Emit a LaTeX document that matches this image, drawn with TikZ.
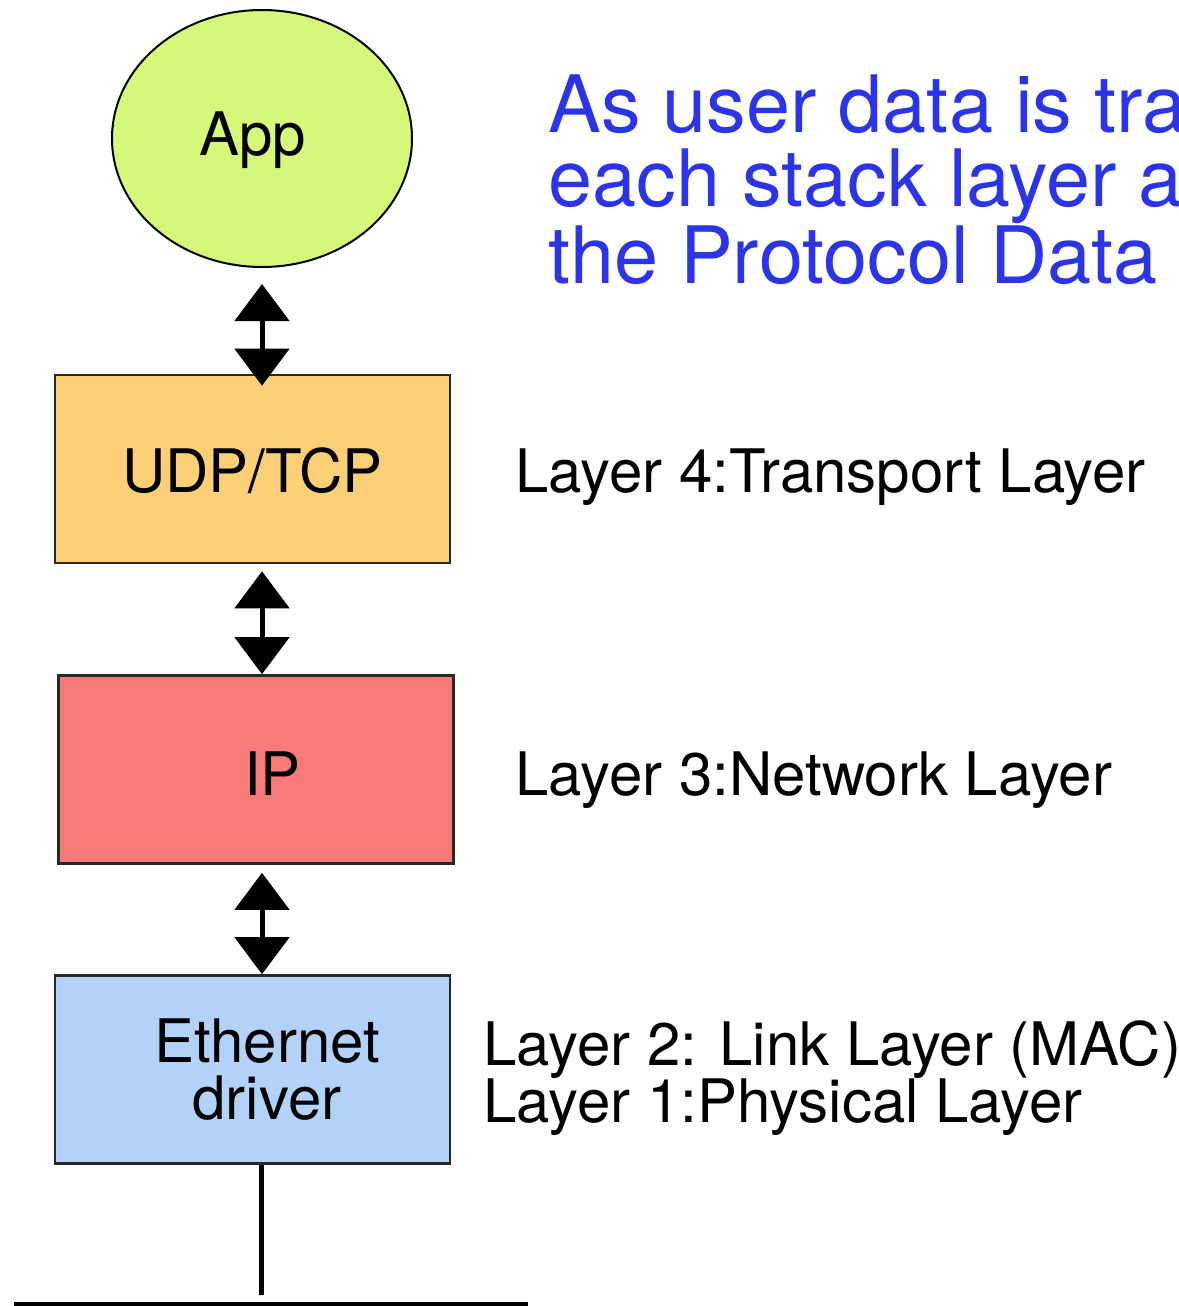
\documentclass[tikz,border=0pt]{standalone}
\usepackage{fontspec}
\setmainfont{TeX Gyre Heros}
\usepackage{tikz}
\usetikzlibrary{arrows.meta}
\usetikzlibrary{shapes.geometric}

\definecolor{appgreen}{RGB}{213,248,122}
\definecolor{udporange}{RGB}{250,207,118}
\definecolor{ipred}{RGB}{248,122,120}
\definecolor{ethblue}{RGB}{178,210,250}
\definecolor{noteblue}{RGB}{43,52,230}
\definecolor{boxgray}{RGB}{40,40,40}

\begin{document}
\begin{tikzpicture}[x=0.5pt, y=-0.5pt]
	\useasboundingbox (0,0) rectangle (1178,1306);
	\clip (0,0) rectangle (1178,1306);

	\begin{scope}[every node/.style={draw=boxgray, line width=1.3pt, inner sep=0pt,
	              minimum width=197.5pt, minimum height=94pt}]
		\node[ellipse, draw=black, line width=1pt, fill=appgreen,
		      minimum width=150pt, minimum height=128.5pt] (app) at (262,138.5) {};
		\node[fill=udporange] (udp) at (252.5,469) {};
		\node[fill=ipred] (ip) at (256,769.5) {};
		\node[fill=ethblue] (eth) at (252.5,1069.5) {};
	\end{scope}

	\begin{scope}[every node/.style={font=\fontsize{30}{28.5}\selectfont, inner sep=0pt}]
		\node[anchor=base] (apptext) at (252.5,155) {App};
		\node[anchor=base] (udptext) at (252.5,492) {UDP/TCP};
		\node[anchor=base] (iptext) at (272.5,795) {IP};
		\node[align=center] (ethtext) at (267,1069.5) {Ethernet\\driver};
		\node[anchor=base west] (layer4) at (515,492) {Layer 4:Transport Layer};
		\node[anchor=base west] (layer3) at (515,795) {Layer 3:Network Layer};
		\node[anchor=base west, align=left] (layer21) at (483,1122)
		     {Layer 2: Link Layer (MAC)\\Layer 1:Physical Layer};
	\end{scope}

	\node[anchor=base west, align=left, inner sep=0pt, text=noteblue,
	      font=\fontsize{39.6}{36.75}\selectfont] (note) at (548,283)
	     {As user data is tra\\each stack layer a\\the Protocol Data};

	\begin{scope}[>={Triangle[length=18.5pt, width=27pt]},
	              every edge/.style={draw=black, line width=2.5pt}]
		\path (app.south) edge[<->, shorten <=8pt, shorten >=-6pt] (app.south |- udp.north);
		\path (udp.south -| app.south) edge[<->, shorten <=3.5pt] (ip.north -| app.south);
		\path (ip.south -| app.south) edge[<->, shorten <=4pt] (eth.north -| app.south);
	\end{scope}

	% cable down to the wire
	\coordinate (tap) at (261,1295);
	\coordinate (busL) at (14,1304.5);
	\coordinate (busR) at (528,1304.5);
	\draw[line width=2.5pt] (eth.south -| tap) -- (tap);
	\draw[line width=2.5pt] (busL) -- (busR);
\end{tikzpicture}
\end{document}
